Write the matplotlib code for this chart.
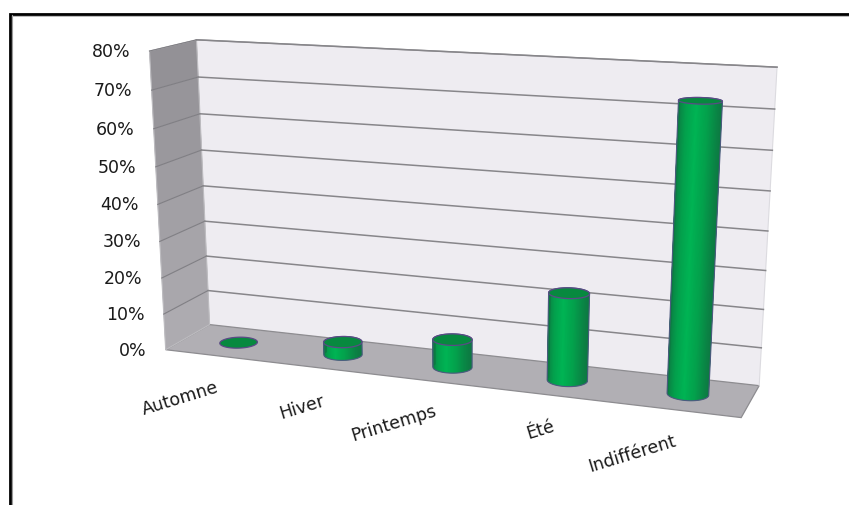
import numpy as np
import matplotlib
matplotlib.use("Agg")
import matplotlib.pyplot as plt
from matplotlib.patches import Polygon
from matplotlib.collections import PolyCollection
from matplotlib.colors import LinearSegmentedColormap

categories = ["Automne", "Hiver", "Printemps", "Été", "Indifférent"]
values = [0, 3.5, 7.5, 23, 73]
ticks = [0, 10, 20, 30, 40, 50, 60, 70, 80]
tick_labels = ["0%", "10%", "20%", "30%", "40%", "50%", "60%", "70%", "80%"]

W, H = 849, 505
fig = plt.figure(figsize=(W / 100, H / 100), dpi=100)
ax = fig.add_axes([0, 0, 1, 1])
ax.set_xlim(0, W)
ax.set_ylim(H, 0)
ax.axis("off")

# camera calibration: (category pos, value, depth) <-> pixel
world = [(0, 80, 0), (5, 80, 0), (0, 0, 0), (5, 0, 0), (0, 0, 1), (5, 0, 1), (0, 80, 1),
         (0.5, 0, .5), (1.5, 0, .5), (2.5, 0, .5), (3.5, 0, .5), (4.5, 0, .5)]
pix = [(197, 40), (777, 67), (209, 324), (759, 386), (166, 350), (741, 417), (149, 51),
       (239, 343), (343, 354), (452, 367), (568, 381), (688, 394)]
A = []
for (X, Y, Z), (u, v) in zip(world, pix):
    A.append([X, Y, Z, 1, 0, 0, 0, 0, -u * X, -u * Y, -u * Z, -u])
    A.append([0, 0, 0, 0, X, Y, Z, 1, -v * X, -v * Y, -v * Z, -v])
P = np.linalg.svd(np.array(A, float))[2][-1].reshape(3, 4)


def proj(x, y, z):
    x, y, z = np.broadcast_arrays(np.asarray(x, float), np.asarray(y, float), np.asarray(z, float))
    h = P @ np.stack([x.ravel(), y.ravel(), z.ravel(), np.ones(x.size)])
    return np.column_stack([h[0] / h[2], h[1] / h[2]])


# Frame
ax.plot([10, 10, W], [H, 13.5, 13.5], color="black", lw=2, solid_joinstyle="miter", zorder=1)
ax.plot([12, 12], [15, H], color="#9a9a9a", lw=0.8, zorder=1)
ax.plot([12, W], [15.5, 15.5], color="#b0b0b0", lw=0.6, zorder=1)

# Walls
ax.add_patch(Polygon(proj([0, 5, 5, 0], [80, 80, 0, 0], 0), fc="#eeecf1", ec="none", zorder=2))
q = proj([0, 5], 80, 0)
ax.plot(q[:, 0], q[:, 1], color="#9a999d", lw=1, zorder=3)
q = proj([5, 5], [80, 0], 0)
ax.plot(q[:, 0], q[:, 1], color="#dcdbe0", lw=0.8, zorder=3)
ax.add_patch(Polygon(proj([0, 5, 5, 0], 0, [0, 0, 1, 1]), fc="#b1afb4", ec="#8d8c90", lw=0.9, zorder=2))
side = LinearSegmentedColormap.from_list("side", ["#adabb0", "#939196"])
for lo, hi in zip(ticks[:-1], ticks[1:]):
    ax.add_patch(Polygon(proj([0, 0, 0, 0], [lo, hi, hi, lo], [0, 0, 1, 1]),
                         fc=side(lo / 70), ec=side(lo / 70), lw=0.3, zorder=2))
ax.add_patch(Polygon(proj([0, 0, 0, 0], [0, 80, 80, 0], [0, 0, 1, 1]), fill=False, ec="#bdbcc0", lw=0.8, zorder=2))

# Gridlines and value labels
for t, lab in zip(ticks, tick_labels):
    p = proj([0, 0, 5], t, [1, 0, 0])
    if t > 0:
        ax.plot(p[:2, 0], p[:2, 1], color="#807f84", lw=0.8, zorder=3)
        ax.plot(p[1:, 0], p[1:, 1], color="#87868a", lw=1.1, zorder=3)
    ax.text(p[0, 0] - 19, p[0, 1] + 1, lab, ha="right", va="center", fontsize=12.5,
            color="#1a1a1a", zorder=6)

# Cylinders
body = LinearSegmentedColormap.from_list("body", ["#0d7a42", "#04a04c", "#00b555", "#04a04c", "#0d7a42"])


def hull(pts):
    pts = sorted(map(tuple, pts))
    def half(seq):
        out = []
        for q in seq:
            while len(out) > 1 and ((out[-1][0] - out[-2][0]) * (q[1] - out[-2][1])
                                    - (out[-1][1] - out[-2][1]) * (q[0] - out[-2][0])) <= 0:
                out.pop()
            out.append(q)
        return out[:-1]
    return np.array(half(pts) + half(pts[::-1]))


RX, RZ = 0.165, 0.2
ang = np.linspace(0, 2 * np.pi, 121)
for i, v in enumerate(values):
    cx = i + 0.5
    circ_x, circ_z = cx + RX * np.cos(ang), 0.5 + RZ * np.sin(ang)
    base = proj(circ_x, 0, circ_z)
    top = proj(circ_x, v, circ_z)
    if v > 0:
        front = np.linspace(-0.15, np.pi + 0.15, 90)
        x = cx + RX * np.cos(front)
        z = 0.5 + RZ * np.sin(front)
        b, t = proj(x, 0, z), proj(x, v, z)
        quads = [[b[k], b[k + 1], t[k + 1], t[k]] for k in range(len(front) - 1)]
        cols = [body(0.5 - 0.5 * np.cos(0.5 * (front[k] + front[k + 1]))) for k in range(len(front) - 1)]
        shape = Polygon(hull(np.vstack([base, top])), fc="#00a84c", ec="none", zorder=4)
        ax.add_patch(shape)
        pc = PolyCollection(quads, facecolors=cols, edgecolors=cols, linewidths=0.3, zorder=4)
        ax.add_collection(pc)
        pc.set_clip_path(shape)
        ax.add_patch(Polygon(hull(np.vstack([base, top])), fill=False, ec="#4d5a80", lw=0.8, zorder=5))
    ax.add_patch(Polygon(top, fc="#07893f", ec="#5b4a86", lw=0.9, zorder=5))

# Category labels
label_centers = [(180, 399), (302, 407), (394, 423), (540, 430), (632, 454)]
for name, (lx, ly) in zip(categories, label_centers):
    ax.text(lx, ly, name, rotation=17, rotation_mode="anchor", ha="center", va="center",
            fontsize=12.5, color="#1a1a1a", zorder=6)

fig.savefig("out.png", dpi=100, facecolor="white")
